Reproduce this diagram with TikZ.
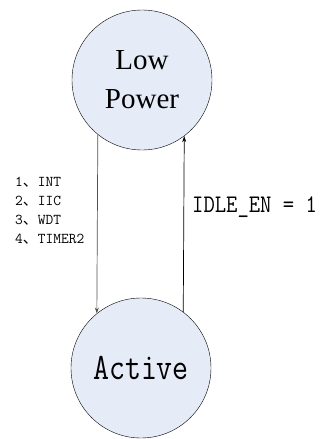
\documentclass[tikz,border=0pt]{standalone}
\usepackage{fontspec}
\usepackage{tikz}
\usetikzlibrary{arrows.meta}
\newfontfamily\cjk{Noto Sans CJK SC}
\newfontfamily\serifname{Liberation Serif}
\definecolor{statefill}{RGB}{230,236,247}
\definecolor{gray}{RGB}{80,80,80}

\begin{document}
\begin{tikzpicture}[>={Stealth[length=6pt, width=4pt]}, x=1pt, y=-1pt,
	state/.style={circle, draw, thin, fill=statefill, minimum size=140pt, inner sep=0pt}]

\useasboundingbox (0,0) rectangle (325,439);

\node[state, align=center, font=\serifname\fontsize{29}{39}\selectfont] (low) at (142,80) {Low\\Power};
\node[state, font=\ttfamily\fontsize{31}{31}\selectfont] (active) at (141,368) {\scalebox{1}[1.2]{Active}};

\draw[->, gray, line width=0.7pt] (low.231) -- (active.129);
\draw[->, line width=0.7pt] (active.53) -- (low.-53);

\node[anchor=north west, align=left, inner sep=0pt, font=\ttfamily\fontsize{15}{19}\selectfont] (wake) at (15,177)
	{1{\cjk 、}INT\\2{\cjk 、}IIC\\3{\cjk 、}WDT\\4{\cjk 、}TIMER2};
\node[anchor=base west, inner sep=0pt, font=\ttfamily\fontsize{22}{22}\selectfont] (idle) at (192,212) {\scalebox{1}[1.15]{IDLE\_EN = 1}};

\end{tikzpicture}
\end{document}
